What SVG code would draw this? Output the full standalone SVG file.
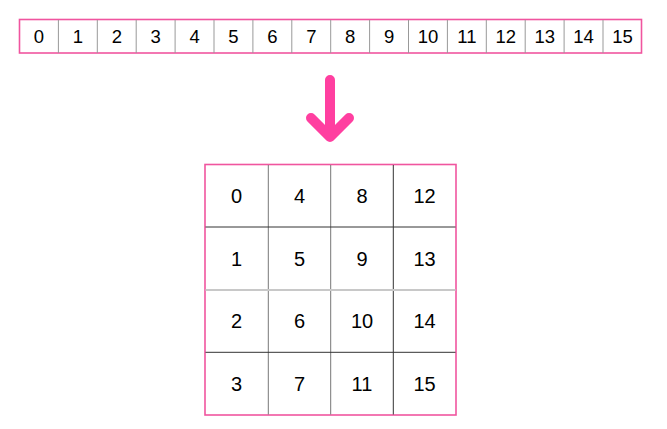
<svg xmlns="http://www.w3.org/2000/svg" width="667" height="429" viewBox="0 0 667 429">
<style>
text{font-family:"Liberation Sans",Arial,sans-serif;fill:#000;text-anchor:middle}
.s{font-size:18.5px}
.g{font-size:20px}
.frame{fill:#fff;stroke:#f0559f;stroke-width:1.6}
.d1{stroke:#999;stroke-width:1}
.d2{stroke:#777;stroke-width:1}
.d3{stroke:#333;stroke-width:1}
.d4{stroke:#c8c8c8;stroke-width:2}
.arrow{fill:none;stroke:#ff3fa0;stroke-width:10;stroke-linecap:round;stroke-linejoin:round}
</style>
<rect width="667" height="429" fill="#fff"/>
<g id="strip">
<rect class="frame" x="19.5" y="19.5" width="622" height="33.5"/>
<g class="d1">
<line x1="58.4" y1="20" x2="58.4" y2="53"/>
<line x1="97.3" y1="20" x2="97.3" y2="53"/>
<line x1="136.2" y1="20" x2="136.2" y2="53"/>
<line x1="175.1" y1="20" x2="175.1" y2="53"/>
<line x1="214" y1="20" x2="214" y2="53"/>
<line x1="252.9" y1="20" x2="252.9" y2="53"/>
<line x1="291.8" y1="20" x2="291.8" y2="53"/>
<line x1="330.7" y1="20" x2="330.7" y2="53"/>
<line x1="369.6" y1="20" x2="369.6" y2="53"/>
<line x1="408.5" y1="20" x2="408.5" y2="53"/>
<line x1="447.4" y1="20" x2="447.4" y2="53"/>
<line x1="486.3" y1="20" x2="486.3" y2="53"/>
<line x1="525.2" y1="20" x2="525.2" y2="53"/>
<line x1="564.1" y1="20" x2="564.1" y2="53"/>
<line x1="603" y1="20" x2="603" y2="53"/>
</g>
<g class="s">
<text x="39" y="43.3">0</text>
<text x="77.9" y="43.3">1</text>
<text x="116.8" y="43.3">2</text>
<text x="155.7" y="43.3">3</text>
<text x="194.6" y="43.3">4</text>
<text x="233.5" y="43.3">5</text>
<text x="272.4" y="43.3">6</text>
<text x="311.3" y="43.3">7</text>
<text x="350.2" y="43.3">8</text>
<text x="389.1" y="43.3">9</text>
<text x="428" y="43.3">10</text>
<text x="466.9" y="43.3">11</text>
<text x="505.8" y="43.3">12</text>
<text x="544.7" y="43.3">13</text>
<text x="583.6" y="43.3">14</text>
<text x="622.5" y="43.3">15</text>
</g>
</g>
<g id="connectors">
<path class="arrow" d="M330 80 V136 M311 118 L330 137 L349 118"/>
</g>
<g id="grid">
<rect class="frame" x="205" y="164.5" width="251" height="250.5"/>
<line class="d2" x1="268.3" y1="165" x2="268.3" y2="414.5"/>
<line class="d2" x1="330.7" y1="165" x2="330.7" y2="414.5"/>
<line class="d3" x1="393.3" y1="165" x2="393.3" y2="414.5"/>
<line class="d3" x1="205.5" y1="227" x2="455.5" y2="227"/>
<line class="d4" x1="205.5" y1="290" x2="455.5" y2="290"/>
<line class="d3" x1="205.5" y1="352.3" x2="455.5" y2="352.3"/>
<g class="g">
<text x="236.6" y="203.3">0</text>
<text x="299.5" y="203.3">4</text>
<text x="362" y="203.3">8</text>
<text x="424.6" y="203.3">12</text>
<text x="236.6" y="265.8">1</text>
<text x="299.5" y="265.8">5</text>
<text x="362" y="265.8">9</text>
<text x="424.6" y="265.8">13</text>
<text x="236.6" y="328.3">2</text>
<text x="299.5" y="328.3">6</text>
<text x="362" y="328.3">10</text>
<text x="424.6" y="328.3">14</text>
<text x="236.6" y="390.8">3</text>
<text x="299.5" y="390.8">7</text>
<text x="362" y="390.8">11</text>
<text x="424.6" y="390.8">15</text>
</g>
</g>
</svg>
